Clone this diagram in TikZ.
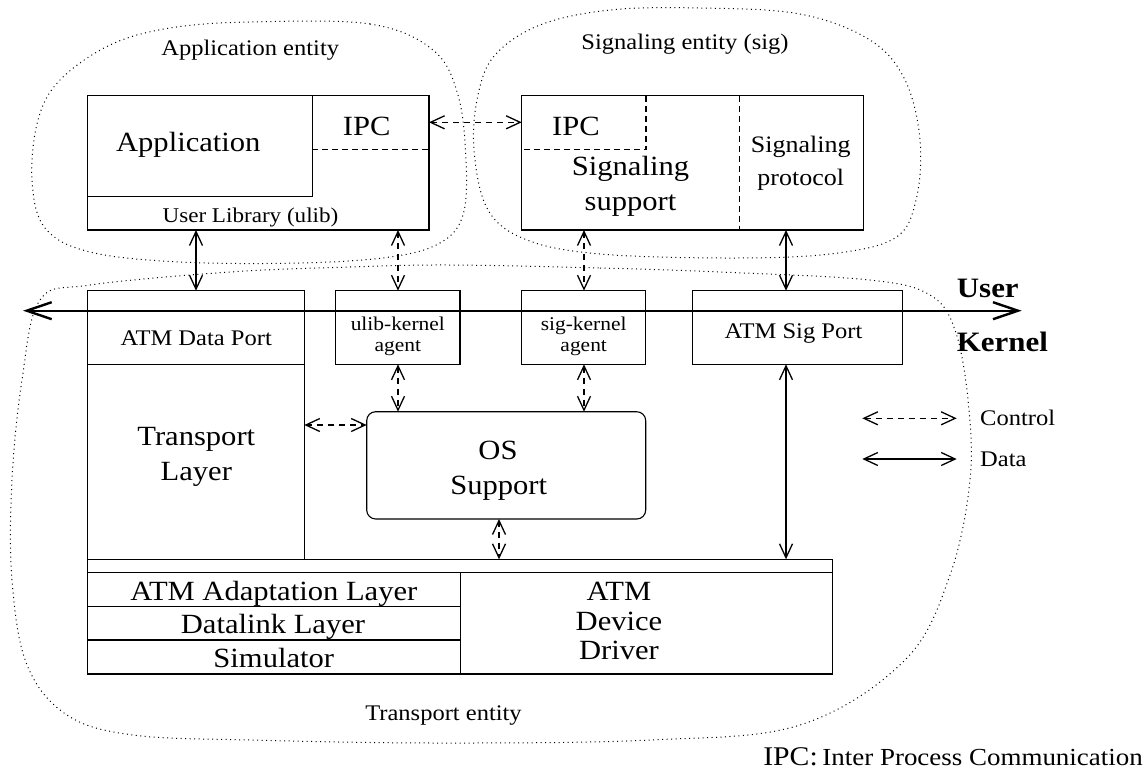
\documentclass[tikz,border=0pt]{standalone}
\usepackage{fontspec}
\setmainfont{Liberation Serif}[FakeStretch=1.1]
\usetikzlibrary{arrows.meta}

\newcommand\fsz[1]{\fontsize{#1}{#1}\selectfont}

\begin{document}
\begin{tikzpicture}[x=1pt,y=-1pt,
  box/.style={draw, line width=1.1pt, inner sep=0pt, outer sep=0pt},
  txt/.style={inner sep=0pt, anchor=base},
  ctrl/.style={line width=1.3pt, dash pattern=on 6pt off 5pt, {Straight Barb[length=14pt,width=13pt]}-{Straight Barb[length=14pt,width=13pt]}},
  data/.style={line width=1.3pt, {Straight Barb[length=14pt,width=13pt]}-{Straight Barb[length=14pt,width=13pt]}},
  split/.style={line width=1.1pt, dash pattern=on 6pt off 4pt},
  blob/.style={line width=1pt, dash pattern=on 1pt off 3.5pt}
]
\fill[white] (0,0) rectangle (1145,772);
\useasboundingbox (0,0) rectangle (1145,772);

% entity outlines
\draw[blob] plot[smooth cycle, tension=0.6] coordinates {(250,22) (370,24) (433,50) (458,95) (466,160) (463,215) (440,243) (390,257) (300,263) (180,262) (90,252) (45,228) (32,180) (38,120) (60,80) (110,45) (170,28)};
\draw[blob] plot[smooth cycle, tension=0.6] coordinates {(700,8) (800,14) (870,40) (905,80) (920,140) (916,200) (895,238) (830,254) (730,258) (600,254) (527,240) (488,210) (474,150) (478,95) (495,55) (540,25) (610,10)};
\draw[blob] plot[smooth cycle, tension=0.6] coordinates {(450,265) (600,268) (720,272) (870,280) (930,295) (955,330) (968,400) (970,480) (950,575) (905,660) (800,725) (650,740) (440,743) (250,740) (133,735) (67,715) (27,665) (12,580) (12,480) (22,380) (40,300) (90,285) (230,272) (350,267)};

% application entity
\node[box, minimum width=341.7, minimum height=134.3] (app) at (258.15,162.85) {};
\node[box, minimum width=225, minimum height=100.6] (appcore) at (199.8,146) {};
\coordinate (ipcl) at (312.3,149.3);
\draw[split] (ipcl) -- (ipcl -| app.east);

% signaling entity
\node[box, minimum width=341.6, minimum height=134.3] (sig) at (692.5,162.85) {};
\coordinate (sigc) at (646,149.3);
\draw[split] (sigc |- sig.north) -- (sigc) -- (sigc -| sig.west);
\coordinate (sigd) at (739.3,0);
\draw[split] (sigd |- sig.north) -- (sigd |- sig.south);

% transport entity
\node[box, minimum width=217, minimum height=73.6] (dport) at (195.8,327.5) {};
\node[box, minimum width=217, minimum height=195] (tlayer) at (195.8,461.8) {};
\node[box, minimum width=124.3, minimum height=73.6] (uagent) at (397.85,327.5) {};
\node[box, minimum width=124, minimum height=73.6] (sagent) at (583.7,327.5) {};
\node[box, minimum width=210, minimum height=73.6] (sport) at (797.3,327.5) {};
\node[box, rounded corners=9pt, minimum width=279, minimum height=107.3] (os) at (506.2,465.35) {};
\node[box, minimum width=745, minimum height=13.4] (bar) at (459.8,566) {};
\node[box, minimum width=373.2, minimum height=34] (aal) at (273.9,589.7) {};
\node[box, minimum width=373.2, minimum height=33.3] (dll) at (273.9,623.35) {};
\node[box, minimum width=373.2, minimum height=34] (simu) at (273.9,657) {};
\node[box, minimum width=371.8, minimum height=101.3] (drv) at (646.4,623.35) {};

% user / kernel boundary
\coordinate (ukl) at (23,310.7);
\coordinate (ukr) at (1021.7,310.7);
\draw[line width=2.4pt, {Straight Barb[length=25pt,width=17pt]}-{Straight Barb[length=25pt,width=17pt]}] (ukl) -- (ukr);

% connectors
\coordinate (xa) at (196,0);
\coordinate (xb) at (398,0);
\coordinate (yc) at (0,122.3);
\coordinate (xd) at (584,0);
\coordinate (xe) at (786,0);
\coordinate (yf) at (0,425);
\coordinate (xg) at (499,0);
\draw[data] (app.south -| xa) -- (dport.north -| xa);
\draw[ctrl] (app.south -| xb) -- (uagent.north -| xb);
\draw[ctrl] (uagent.south -| xb) -- (os.north -| xb);
\draw[ctrl] (app.east |- yc) -- (sig.west |- yc);
\draw[ctrl] (sig.south -| xd) -- (sagent.north -| xd);
\draw[ctrl] (sagent.south -| xd) -- (os.north -| xd);
\draw[data] (sig.south -| xe) -- (sport.north -| xe);
\draw[data] (sport.south -| xe) -- (bar.north -| xe);
\draw[ctrl] (tlayer.east |- yf) -- (os.west |- yf);
\draw[ctrl] (os.south -| xg) -- (bar.north -| xg);

% legend
\coordinate (lc1) at (862.3,418.3);
\coordinate (lc2) at (956.7,418.3);
\coordinate (ld1) at (862.3,459);
\coordinate (ld2) at (956.7,459);
\draw[ctrl] (lc1) -- (lc2);
\draw[data] (ld1) -- (ld2);

% labels
\node[txt, font=\fsz{22.3}] (lapp) at (250.2,55) {Application entity};
\node[txt, font=\fsz{22.3}] (lsig) at (685,49) {Signaling entity (sig)};
\node[txt, font=\fsz{27.8}] (tapp) at (188.3,151) {Application};
\node[txt, font=\fsz{27.8}] (tipa) at (366.7,135.7) {IPC};
\node[txt, font=\fsz{21}] (tulib) at (250.5,222.5) {User Library (ulib)};
\node[txt, font=\fsz{27.8}] (tipb) at (576,135.7) {IPC};
\node[txt, font=\fsz{27.8}] (tss1) at (630.5,175.7) {Signaling};
\node[txt, font=\fsz{27.8}] (tss2) at (630.5,210) {support};
\node[txt, font=\fsz{23.6}] (tsp1) at (800.7,152) {Signaling};
\node[txt, font=\fsz{23.6}] (tsp2) at (800.7,185) {protocol};
\node[txt, font=\fsz{22.3}] (tdp) at (196.2,345) {ATM Data Port};
\node[txt, font=\fsz{27.8}] (ttl1) at (196.3,445) {Transport};
\node[txt, font=\fsz{27.8}] (ttl2) at (196.3,480.7) {Layer};
\node[txt, font=\fsz{19.5}] (tua1) at (397.8,330.7) {ulib-kernel};
\node[txt, font=\fsz{19.5}] (tua2) at (397.8,351) {agent};
\node[txt, font=\fsz{19.5}] (tsa1) at (583.7,330.7) {sig-kernel};
\node[txt, font=\fsz{19.5}] (tsa2) at (583.7,351) {agent};
\node[txt, font=\fsz{27.8}] (tos1) at (498,459.3) {OS};
\node[txt, font=\fsz{27.8}] (tos2) at (498.7,494) {Support};
\node[txt, font=\fsz{22.3}] (tsport) at (793.5,338.3) {ATM Sig Port};
\node[txt, anchor=base west, font=\fsz{28.1}\bfseries] (tuser) at (956.7,297.3) {User};
\node[txt, anchor=base west, font=\fsz{28.1}\bfseries] (tkern) at (956.7,351) {Kernel};
\node[txt, anchor=base west, font=\fsz{22.3}] (tctrl) at (980,425) {Control};
\node[txt, anchor=base west, font=\fsz{22.3}] (tdata) at (980,466.7) {Data};
\node[txt, font=\fsz{27.8}] (taal) at (273.8,600.7) {ATM Adaptation Layer};
\node[txt, font=\fsz{27.8}] (tdll) at (273,633.3) {Datalink Layer};
\node[txt, font=\fsz{27.8}] (tsim) at (273.8,667.3) {Simulator};
\node[txt, font=\fsz{27.8}] (tdrv1) at (619,600) {ATM};
\node[txt, font=\fsz{27.8}] (tdrv2) at (619,630) {Device};
\node[txt, font=\fsz{27.8}] (tdrv3) at (619,659.3) {Driver};
\node[txt, font=\fsz{22.3}] (ltr) at (443.5,720) {Transport entity};
\node[txt, anchor=base east, font=\fsz{27}] (tipc) at (818,765) {IPC:};
\node[txt, anchor=base east, font=\fsz{24.5}] (tipcx) at (1143,765) {Inter Process Communication};
\end{tikzpicture}
\end{document}
